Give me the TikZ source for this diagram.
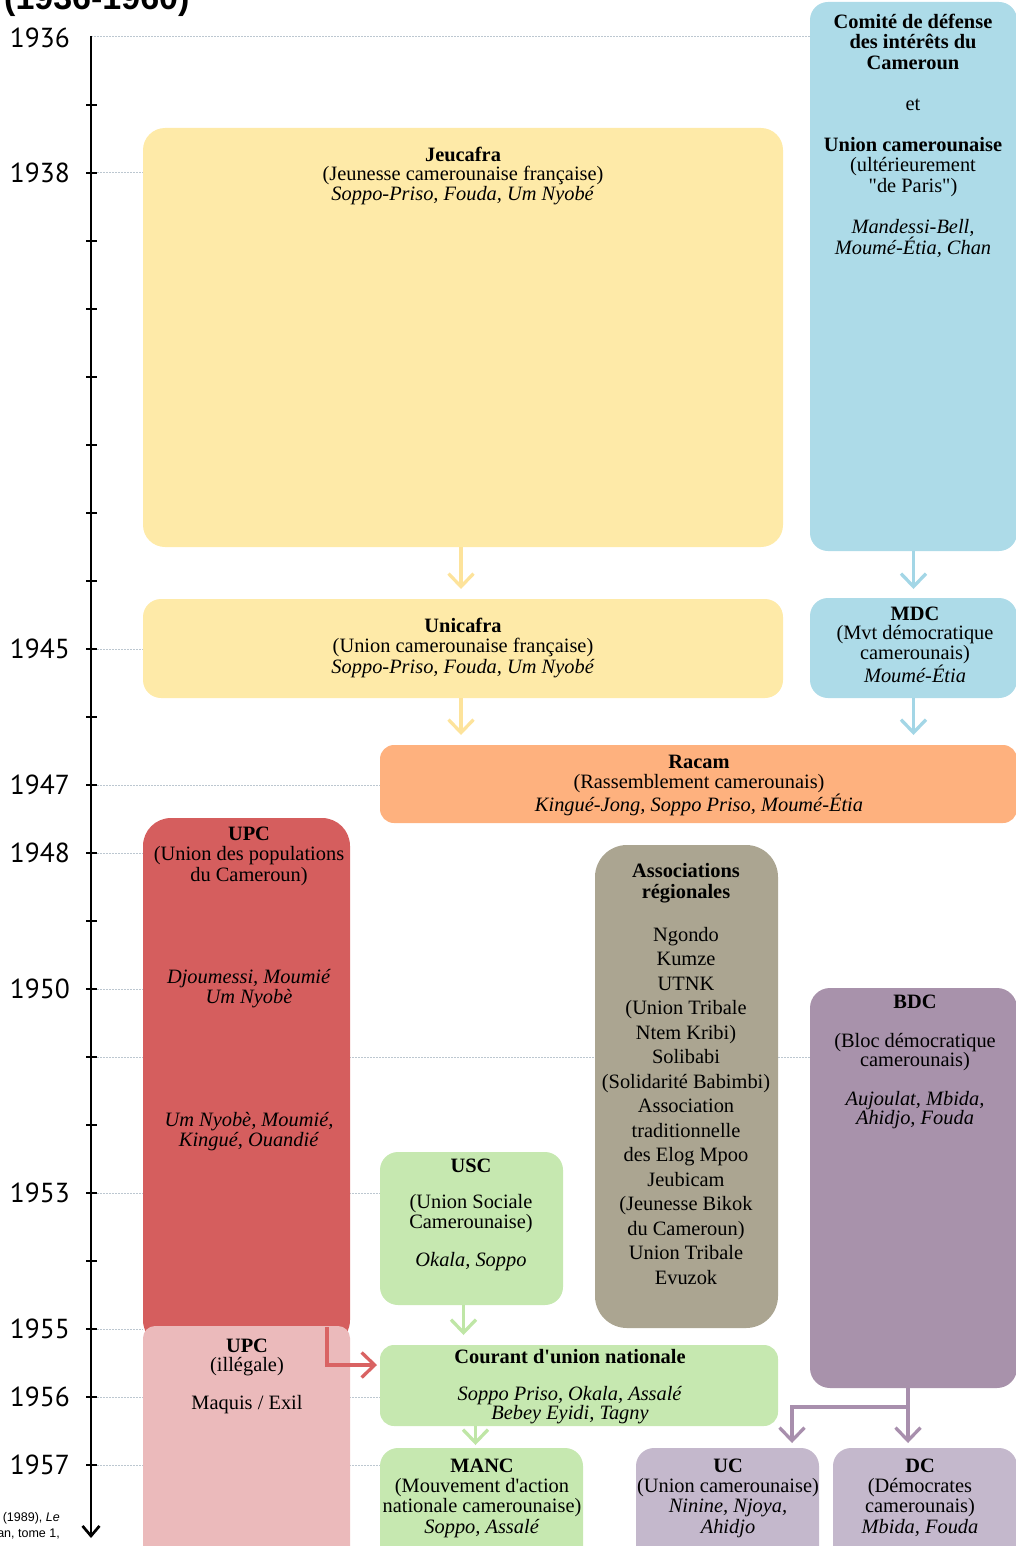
\documentclass[tikz,border=0pt]{standalone}
\usepackage{fontspec}
\setmainfont{Liberation Serif}[Ligatures=TeXOff]
\newfontfamily\yearfont{PT Sans}
\newfontfamily\sansfont{Liberation Sans}
\usetikzlibrary{arrows.meta,calc}
\definecolor{cblue}{HTML}{ADDBE8}
\definecolor{cbluearr}{HTML}{A3D6E6}
\definecolor{cyellow}{HTML}{FEEAA8}
\definecolor{cyelarr}{HTML}{FDE39B}
\definecolor{corange}{HTML}{FEB17E}
\definecolor{cred}{HTML}{D55E5E}
\definecolor{credarr}{HTML}{D96363}
\definecolor{cpink}{HTML}{EBBABB}
\definecolor{ckhaki}{HTML}{ABA591}
\definecolor{cpurple}{HTML}{A892AB}
\definecolor{cpurarr}{HTML}{A88FAD}
\definecolor{clilac}{HTML}{C4B8CC}
\definecolor{cgreen}{HTML}{C6E8B0}
\definecolor{cgreenarr}{HTML}{BFE6A6}
\definecolor{cgrid}{HTML}{BCC7D0}
\newcommand\fst{\rule{0pt}{18pt}}
\begin{document}
\begin{tikzpicture}[x=1pt,y=-1pt,
  box/.style={rounded corners=18pt, inner sep=0pt, outer sep=0pt, anchor=north west, draw=none},
  txt/.style={align=center, inner sep=0pt, anchor=north, font=\fontsize{20.4}{#1}\selectfont},
  txt/.default=20.5,
  yearlbl/.style={anchor=east, inner sep=0pt, font=\yearfont\fontsize{27.5}{27.5}\selectfont},
  gridline/.style={draw=cgrid, line width=1pt, dash pattern=on 1.5pt off 1.5pt},
  axisline/.style={line width=2.7pt, -{Straight Barb[length=10pt,width=17pt]}},
  tickline/.style={line width=2pt},
  carr/.style={line width=3.3pt, -{Straight Barb[length=13pt,width=25pt]}}
]
\useasboundingbox (0,0) rectangle (1016,1546);
\clip (0,0) rectangle (1016,1546);

% title (cut off) and citation fragment
\node[anchor=base west, inner sep=0pt, font=\sansfont\bfseries\fontsize{34}{34}\selectfont] (title) at (4,10) {(1936-1960)};
\node[anchor=base east, inner sep=0pt, align=right, font=\sansfont\fontsize{12.5}{16}\selectfont] (cite) at (60,1537) {(1989), \textit{Le}\\an, tome 1,};

% axis coordinates
\coordinate (a1936) at (91,37);
\coordinate (a1938) at (91,173);
\coordinate (a1945) at (91,649);
\coordinate (a1947) at (91,785);
\coordinate (a1948) at (91,853);
\coordinate (a1950) at (91,989);
\coordinate (a1951) at (91,1057);
\coordinate (a1953) at (91,1193);
\coordinate (a1955) at (91,1329);
\coordinate (a1956) at (91,1397);
\coordinate (a1957) at (91,1465);
\coordinate (aend) at (91,1538);

% dotted grid lines
\draw[gridline] (a1936) -- (810,37);
\draw[gridline] (a1938) -- (143,173);
\draw[gridline] (a1945) -- (143,649);
\draw[gridline] (a1947) -- (380,785);
\draw[gridline] (a1948) -- (143,853);
\draw[gridline] (a1950) -- (143,989);
\draw[gridline] (a1951) -- (810,1057);
\draw[gridline] (a1953) -- (380,1193);
\draw[gridline] (a1955) -- (143,1329);
\draw[gridline] (a1956) -- (380,1397);
\draw[gridline] (a1957) -- (380,1465);

% boxes
\node[box, fill=cblue, minimum width=207pt, minimum height=549pt] (com) at (810,2) {};
\node[box, fill=cyellow, rounded corners=22pt, minimum width=640pt, minimum height=419pt] (jeu) at (143,128) {};
\node[box, fill=cyellow, minimum width=640pt, minimum height=99pt] (uni) at (143,599) {};
\node[box, fill=cblue, minimum width=207pt, minimum height=100pt] (mdc) at (810,598) {};
\node[box, fill=corange, rounded corners=14pt, minimum width=637pt, minimum height=78pt] (rac) at (380,745) {};
\node[box, fill=cred, rounded corners=28pt, minimum width=207pt, minimum height=530pt] (upc) at (143,818) {};
\node[box, fill=cpink, rounded corners=12pt, minimum width=207pt, minimum height=240pt] (upci) at (143,1326) {};
\node[box, fill=ckhaki, rounded corners=32pt, minimum width=183pt, minimum height=483pt] (asso) at (595,845) {};
\node[box, fill=cpurple, rounded corners=20pt, minimum width=207pt, minimum height=400pt] (bdc) at (810,988) {};
\node[box, fill=cgreen, minimum width=183pt, minimum height=153pt] (usc) at (380,1152) {};
\node[box, fill=cgreen, rounded corners=14pt, minimum width=398pt, minimum height=81pt] (cun) at (380,1345) {};
\node[box, fill=cgreen, minimum width=203pt, minimum height=120pt] (manc) at (380,1448) {};
\node[box, fill=clilac, minimum width=183pt, minimum height=120pt] (uc) at (636,1448) {};
\node[box, fill=clilac, minimum width=184pt, minimum height=120pt] (dc) at (833,1448) {};

% axis
\draw[axisline] (91,36) -- (aend);
\foreach \ty in {105,173,241,309,377,445,513,581,649,717,785,853,921,989,1057,1125,1193,1261,1329,1397,1465}
  \draw[tickline] (86,\ty) -- (97,\ty);

% year labels
\node[yearlbl] (y1936) at (70,38) {1936};
\node[yearlbl] (y1938) at (70,173) {1938};
\node[yearlbl] (y1945) at (70,649) {1945};
\node[yearlbl] (y1947) at (70,785) {1947};
\node[yearlbl] (y1948) at (70,853) {1948};
\node[yearlbl] (y1950) at (70,989) {1950};
\node[yearlbl] (y1953) at (70,1193) {1953};
\node[yearlbl] (y1955) at (70,1329) {1955};
\node[yearlbl] (y1956) at (70,1397) {1956};
\node[yearlbl] (y1957) at (70,1465) {1957};

% texts (first baseline = given y + 18)
\node[txt=20.5] (tcom) at (913,10) {\fst\textbf{Comité de défense}\\\textbf{des intérêts du}\\\textbf{Cameroun}\\[20.5pt]et\\[20.5pt]\textbf{Union camerounaise}\\(ultérieurement\\"de Paris")\\[20.5pt]\textit{Mandessi-Bell,}\\\textit{Moumé-Étia, Chan}};
\node[txt=19.7] (tjeu) at (463,143) {\fst\textbf{Jeucafra}\\(Jeunesse camerounaise française)\\\textit{Soppo-Priso, Fouda, Um Nyobé}};
\node[txt=20.5] (tuni) at (463,614) {\fst\textbf{Unicafra}\\(Union camerounaise française)\\\textit{Soppo-Priso, Fouda, Um Nyobé}};
\node[txt=19.7] (tmdc) at (915,602) {\fst\textbf{MDC}\\(Mvt démocratique\\camerounais)\\\textit{Moumé-Étia}};
\node[txt=20] (trac) at (699,750) {\fst\textbf{Racam}\\(Rassemblement camerounais)\\\textit{Kingué-Jong, Soppo Priso, Moumé-Étia}};
\node[txt=20.5] (tupc) at (249,822) {\fst\textbf{UPC}\\(Union des populations\\du Cameroun)};
\node[txt=20.5] (tupcb) at (249,965) {\fst\textit{Djoumessi, Moumié}\\\textit{Um Nyobè}};
\node[txt=20.5] (tupcc) at (249,1108) {\fst\textit{Um Nyobè, Moumié,}\\\textit{Kingué, Ouandié}};
\node[txt=21] (tasso) at (686,859) {\fst\textbf{Associations}\\\textbf{régionales}};
\node[txt=24.5] (tassob) at (686,923) {\fst Ngondo\\Kumze\\UTNK\\(Union Tribale\\Ntem Kribi)\\Solibabi\\(Solidarité Babimbi)\\Association\\traditionnelle\\des Elog Mpoo\\Jeubicam\\(Jeunesse Bikok\\du Cameroun)\\Union Tribale\\Evuzok};
\node[txt=19.4] (tbdc) at (915,990) {\fst\textbf{BDC}\\[19.4pt](Bloc démocratique\\camerounais)\\[19.4pt]\textit{Aujoulat, Mbida,}\\\textit{Ahidjo, Fouda}};
\node[txt=18.3] (tusc) at (471,1154) {\fst\textbf{USC}\\[18.3pt](Union Sociale\\Camerounaise)\\[18.3pt]\textit{Okala, Soppo}};
\node[txt=19] (tupci) at (247,1334) {\fst\textbf{UPC}\\(illégale)\\[19pt]Maquis / Exil};
\node[txt=18.7] (tcun) at (570,1345) {\fst\textbf{Courant d'union nationale}\\[18.7pt]\textit{Soppo Priso, Okala, Assalé}\\\textit{Bebey Eyidi, Tagny}};
\node[txt=20.3] (tmanc) at (482,1454) {\fst\textbf{MANC}\\(Mouvement d'action\\nationale camerounaise)\\\textit{Soppo, Assalé}};
\node[txt=20.3] (tuc) at (728,1454) {\fst\textbf{UC}\\(Union camerounaise)\\\textit{Ninine, Njoya,}\\\textit{Ahidjo}};
\node[txt=20.3] (tdc) at (920,1454) {\fst\textbf{DC}\\(Démocrates\\camerounais)\\\textit{Mbida, Fouda}};

% connectors
\draw[carr, draw=cyelarr, shorten >=10pt] ([xshift=-2pt]jeu.south) -- ([xshift=-2pt]jeu.south |- uni.north);
\draw[carr, draw=cbluearr, shorten >=9pt] (com.south) -- (com.south |- mdc.north);
\draw[carr, draw=cyelarr, shorten >=10pt] ([xshift=-2pt]uni.south) -- ([xshift=-2pt]uni.south |- rac.north);
\draw[carr, draw=cbluearr, shorten >=10pt] (mdc.south) -- (mdc.south |- rac.north);
\draw[carr, draw=cgreenarr, shorten >=10pt] ([xshift=-8pt]usc.south) -- ([xshift=-8pt]usc.south |- cun.north);
\draw[carr, draw=cgreenarr, shorten >=3pt] ([xshift=-6pt]cun.south -| manc.north) -- ([xshift=-6pt]manc.north);
\coordinate (redstart) at (327,1327);
\draw[carr, draw=credarr, shorten >=3pt] (redstart) |- (cun.west |- 0,1365);
\coordinate (bdcout) at (908,1388);
\coordinate (purjoin) at (908,1407);
\draw[carr, draw=cpurarr, shorten >=5pt] (bdcout) -- (bdcout |- dc.north);
\draw[carr, draw=cpurarr, shorten >=5pt] (purjoin) -| (792,1448);
\end{tikzpicture}
\end{document}
